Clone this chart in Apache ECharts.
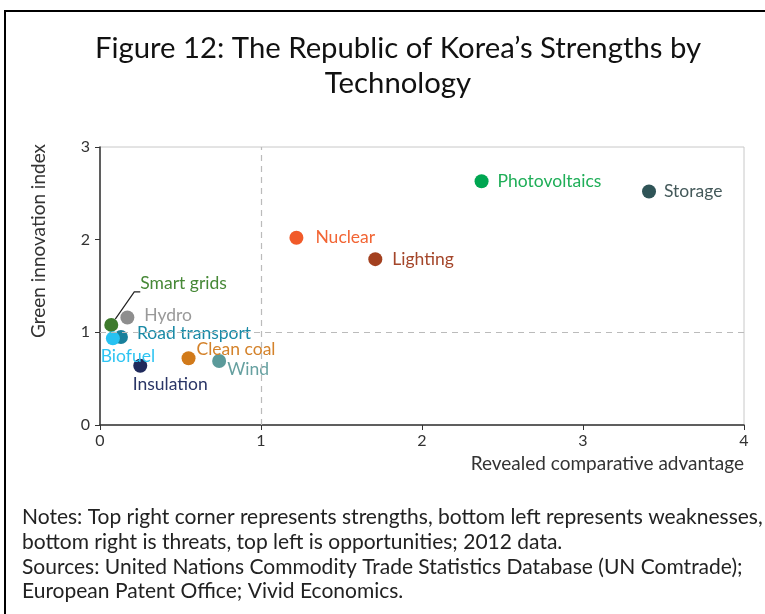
<!DOCTYPE html>
<html>
<head>
<meta charset="utf-8">
<script src="https://cdn.jsdelivr.net/npm/echarts@6/dist/echarts.min.js"></script>
<style>
  html, body { margin: 0; padding: 0; background: #fff; }
  #chart { width: 765px; height: 614px; }
</style>
</head>
<body>
<div id="chart"></div>
<script>
// technologies
const techNames = ['Photovoltaics', 'Storage', 'Nuclear', 'Lighting', 'Smart grids', 'Hydro',
  'Road transport', 'Biofuel', 'Clean coal', 'Wind', 'Insulation']
const rcaValues = [2.37, 3.41, 1.22, 1.71, 0.07, 0.17, 0.13, 0.08, 0.55, 0.74, 0.25]
const greenIndexValues = [2.63, 2.52, 2.02, 1.79, 1.08, 1.16, 0.95, 0.935, 0.72, 0.69, 0.64]
const xTicks = [0, 1, 2, 3, 4]
const yTicks = [0, 1, 2, 3]

// colours per technology
const dotColors = ['#00a651', '#2f5457', '#f15a29', '#a3401f', '#3e7b2e', '#8e8e8e',
  '#18809c', '#27c2f2', '#d17a1a', '#5b9a9a', '#1f2a5c']
const labelColors = ['#1fae58', '#44595a', '#f26534', '#a4462a', '#468836', '#999999',
  '#1a8aa6', '#2ec4f2', '#d4822a', '#66a0a0', '#2a3566']

// label placement per point
const labelStyles = {
  'Photovoltaics': { position: 'right', distance: 9 },
  'Storage': { position: 'right', distance: 8 },
  'Nuclear': { position: 'right', distance: 12 },
  'Lighting': { position: 'right', distance: 10 },
  'Smart grids': { position: 'right', distance: 22, offset: [0, -42] },
  'Hydro': { position: 'right', distance: 10, offset: [0, -2] },
  'Road transport': { position: 'right', distance: 9, offset: [0, -4] },
  'Biofuel': { position: 'bottom', distance: 2, offset: [15, 0] },
  'Clean coal': { position: 'right', distance: 1, offset: [0, -9] },
  'Wind': { position: 'right', distance: 1, offset: [0, 8] },
  'Insulation': { position: 'bottom', distance: 3, offset: [30, 0] }
}

const fontFamily = 'Lato, "Open Sans", sans-serif'
const chart = echarts.init(document.getElementById('chart'))

const points = techNames.map((name, i) => {
  const ls = labelStyles[name]
  return {
    name,
    value: [rcaValues[i], greenIndexValues[i]],
    itemStyle: { color: dotColors[i], opacity: 1 },
    label: {
      show: true,
      formatter: name,
      position: ls.position,
      distance: ls.distance,
      offset: ls.offset || [0, 0],
      color: labelColors[i],
      fontSize: 17.5,
      fontFamily
    },
    labelLine: name === 'Smart grids' ? {
      show: true,
      length2: 6,
      lineStyle: { color: '#222', width: 1.2 }
    } : { show: false }
  }
})

const option = {
  animation: false,
  textStyle: { fontFamily },
  title: [
    {
      text: 'Figure 12: The Republic of Korea\u2019s Strengths by\nTechnology',
      left: 393,
      top: 26,
      textAlign: 'center',
      textStyle: {
        fontSize: 29.3,
        fontWeight: 'normal',
        color: '#111',
        lineHeight: 35,
        fontFamily
      }
    },
    {
      text: 'Notes: Top right corner represents strengths, bottom left represents weaknesses,\n' +
        'bottom right is threats, top left is opportunities; 2012 data.\n' +
        'Sources: United Nations Commodity Trade Statistics Database (UN Comtrade);\n' +
        'European Patent Office; Vivid Economics.',
      left: 17,
      top: 500,
      textStyle: {
        fontSize: 21,
        fontWeight: 'normal',
        color: '#222',
        lineHeight: 24.7,
        fontFamily
      }
    }
  ],
  graphic: [
    { type: 'line', shape: { x1: 5, y1: 11, x2: 765, y2: 11 }, style: { stroke: '#000', lineWidth: 2 } },
    { type: 'line', shape: { x1: 5, y1: 10, x2: 5, y2: 614 }, style: { stroke: '#000', lineWidth: 2 } }
  ],
  grid: {
    left: 100,
    right: 21,
    top: 147,
    bottom: 189,
    show: true,
    borderColor: '#c8c8c8',
    borderWidth: 1
  },
  xAxis: {
    type: 'value',
    min: xTicks[0],
    max: xTicks[xTicks.length - 1],
    interval: 1,
    name: 'Revealed comparative advantage',
    nameLocation: 'end',
    nameGap: 0,
    nameTextStyle: {
      align: 'right',
      verticalAlign: 'top',
      padding: [29, 0, 0, 0],
      fontSize: 19,
      color: '#333',
      fontFamily
    },
    axisLine: { show: true, lineStyle: { color: '#333', width: 1.5 } },
    axisTick: { show: true, length: 5, lineStyle: { color: '#333' } },
    axisLabel: { fontSize: 16, color: '#333', margin: 8, fontFamily },
    splitLine: { show: false }
  },
  yAxis: {
    type: 'value',
    min: yTicks[0],
    max: yTicks[yTicks.length - 1],
    interval: 1,
    name: 'Green innovation index',
    nameLocation: 'middle',
    nameRotate: 90,
    nameGap: 52,
    nameTextStyle: {
      fontSize: 19,
      color: '#333',
      padding: [0, 0, 0, 90],
      fontFamily
    },
    axisLine: { show: true, lineStyle: { color: '#333', width: 1.5 } },
    axisTick: { show: true, length: 5, lineStyle: { color: '#333' } },
    axisLabel: { fontSize: 16, color: '#333', margin: 10, fontFamily },
    splitLine: { show: false }
  },
  series: [
    {
      type: 'scatter',
      symbolSize: 14,
      data: points,
      markLine: {
        silent: true,
        symbol: 'none',
        label: { show: false },
        lineStyle: { color: '#bbb', type: [6, 5], width: 1.2 },
        data: [{ xAxis: 1 }, { yAxis: 1 }]
      },
      z: 3
    }
  ]
}

chart.setOption(option)
</script>
</body>
</html>
